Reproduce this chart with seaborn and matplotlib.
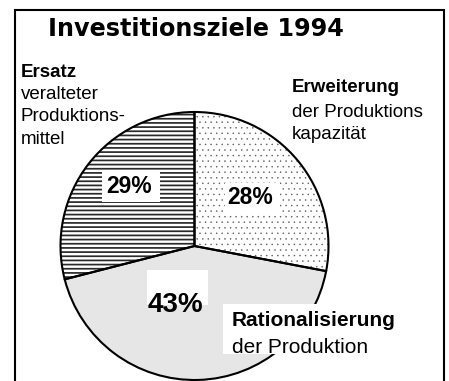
import matplotlib
matplotlib.use("Agg")
import matplotlib.pyplot as plt
from matplotlib.patches import Rectangle
import seaborn as sns

# Investment goals 1994 (share of respondents, %)
categories = ["Erweiterung", "Rationalisierung", "Ersatz"]
shares = [28, 43, 29]
title = "Investitionsziele 1994"
label_heads = ["Erweiterung", "Rationalisierung", "Ersatz"]
label_tails = [["der Produktions", "kapazität"], ["der Produktion"],
               ["veralteter", "Produktions-", "mittel"]]

sns.set_theme(style="white")
plt.rcParams["font.family"] = ["Liberation Sans", "DejaVu Sans"]
plt.rcParams["text.color"] = "black"

W, H = 449, 381
fig = plt.figure(figsize=(W / 100, H / 100), dpi=100)
ax = fig.add_axes([0, 0, 1, 1])

cx, cy, r = 194.5, 246, 134
fills = ["white", "#e6e6e6", "white"]
pie_kw = dict(center=(cx, cy), radius=r, startangle=-90, counterclock=True)

# y axis runs downward, so a counterclockwise sweep from -90 reads
# clockwise from twelve o'clock on the page
with plt.rc_context({"hatch.linewidth": 0.3}):
    ax.pie(shares, colors=fills, hatch=["...", "", ""],
           wedgeprops=dict(edgecolor="#5a5a5a", linewidth=0), **pie_kw)
with plt.rc_context({"hatch.linewidth": 1.25}):
    ax.pie(shares, colors=["none"] * 3, hatch=["", "", "----"],
           wedgeprops=dict(edgecolor="#2a2a2a", linewidth=0), **pie_kw)
# outlines
ax.pie(shares, wedgeprops=dict(facecolor="none", edgecolor="black",
                               linewidth=1.5), **pie_kw)

ax.set_xlim(0, W)
ax.set_ylim(H, 0)
ax.set_aspect("equal")
ax.set_axis_off()

# frame (open at the bottom)
ax.plot([15, 15, 444, 444], [H + 5, 10, 10, H + 5], color="black",
        lw=1.5, clip_on=False, solid_joinstyle="miter")

# white backing boxes behind labels
for (x0, y0, x1, y1) in [(102, 172, 160, 202), (225, 183, 280, 212),
                         (147, 270, 208, 305), (223, 304, 402, 354)]:
    ax.add_patch(Rectangle((x0, y0), x1 - x0, y1 - y0, facecolor="white",
                           edgecolor="none", zorder=3))

ax.text(48, 36, title, fontsize=17.2, fontweight="bold",
        family="DejaVu Sans", va="baseline", ha="left", zorder=5)

# percentage labels
pct_pos = [(250.5, 204, 16.5), (175, 312, 20), (129, 193, 16.5)]
for v, (x, y, fs) in zip(shares, pct_pos):
    ax.text(x, y, f"{v}%", fontsize=fs, fontweight="bold", ha="center",
            va="baseline", zorder=5)

# category captions
cap_pos = [(292, [92, 117, 139], 13.5), (232, [326, 353], 15),
           (21, [77, 99, 121, 144], 13.5)]
for head, tails, (x, ys, fs) in zip(label_heads, label_tails, cap_pos):
    ax.text(x, ys[0], head, fontsize=fs, fontweight="bold", ha="left",
            va="baseline", zorder=5)
    for t, y in zip(tails, ys[1:]):
        ax.text(x, y, t, fontsize=fs, ha="left", va="baseline", zorder=5)

fig.savefig("out.png", dpi=100, facecolor="white")
